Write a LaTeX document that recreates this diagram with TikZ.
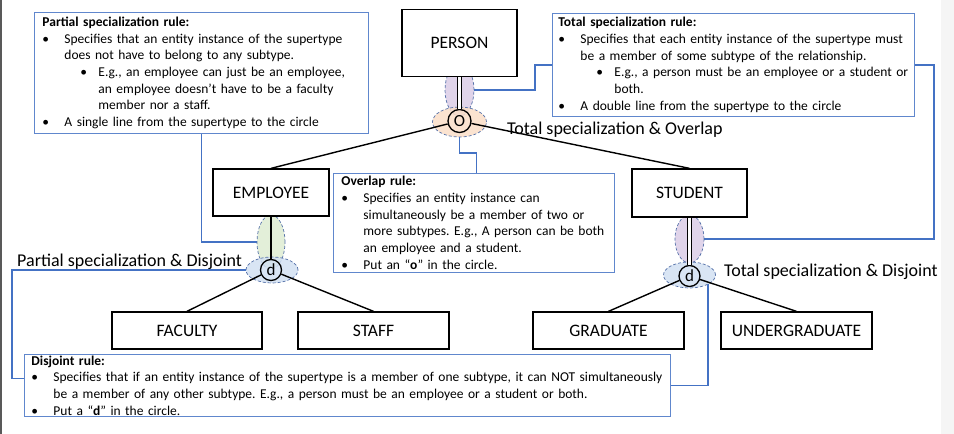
\documentclass[tikz,border=0pt]{standalone}
\usepackage{fontspec}
\setmainfont{Carlito}
\frenchspacing
\usetikzlibrary{positioning,calc,shapes.geometric,backgrounds}
\definecolor{rulblue}{RGB}{68,114,196}
\definecolor{dashblue}{RGB}{84,112,168}
\definecolor{lavfill}{RGB}{218,205,230}
\definecolor{peachfill}{RGB}{250,222,200}
\definecolor{sagefill}{RGB}{222,236,210}
\definecolor{skyfill}{RGB}{210,224,242}
\tikzset{
  entity/.style={draw=black, line width=1.3pt, fill=white, inner sep=0pt, font=\fontsize{17.5}{20}\selectfont},
  rulebox/.style={draw=rulblue!85, line width=0.9pt, fill=white, anchor=north west, align=left,
    inner xsep=8pt, inner ysep=0pt, font=\fontsize{13.5}{16.7}\selectfont},
  bubble/.style={ellipse, draw=dashblue, line width=0.7pt, dash pattern=on 3pt off 2pt,
    fill opacity=0.85, inner sep=0pt},
  selcirc/.style={circle, draw=black, line width=1.3pt, inner sep=0pt, font=\fontsize{17}{18}\selectfont},
  link/.style={line width=1.4pt, black},
  callout/.style={draw=rulblue, line width=1.4pt},
  lbl/.style={anchor=base west, inner sep=0pt, font=\fontsize{18}{20}\selectfont},
}
\newcommand{\bl}{\makebox[22pt][l]{\textbullet}}
\newcommand{\sbl}{\hspace*{38pt}\makebox[18pt][l]{\textbullet}}
\newcommand{\hng}{\hspace*{22pt}}
\newcommand{\shng}{\hspace*{56pt}}

\begin{document}
\begin{tikzpicture}[x=1pt,y=-1pt]
  \useasboundingbox (0,0) rectangle (954,434);
  \fill[gray!8] (941,0) rectangle (954,434);
  \draw[gray!70!black, line width=1.5pt] (0.75,0) -- (0.75,434);

  % bubbles round the lines and circles
  \node[bubble, fill=lavfill, minimum width=29pt, minimum height=52pt] (pbub) at (459.5,90) {};
  \node[bubble, fill=peachfill, minimum width=54pt, minimum height=30pt] (obub) at (459.5,122) {};
  \node[bubble, fill=sagefill, minimum width=28pt, minimum height=54pt] (ebub) at (271,242) {};
  \node[bubble, fill=skyfill, minimum width=52pt, minimum height=26pt] (edbub) at (272,270) {};
  \node[bubble, fill=lavfill, minimum width=29pt, minimum height=48pt] (sbub) at (689.5,239) {};
  \node[bubble, fill=skyfill, minimum width=52pt, minimum height=26pt] (sdbub) at (689.5,275) {};

  % entities
  \node[entity, minimum width=115pt, minimum height=67pt] (person) at (459.5,43) {PERSON};
  \node[entity, minimum width=116pt, minimum height=47pt] (employee) at (271,192.5) {EMPLOYEE};
  \node[entity, minimum width=115pt, minimum height=48pt] (student) at (689.5,193) {STUDENT};
  \node[entity, minimum width=150pt, minimum height=37pt] (faculty) at (187,330.5) {FACULTY};
  \node[entity, minimum width=151pt, minimum height=37pt] (staff) at (373.5,330.5) {STAFF};
  \node[entity, minimum width=151pt, minimum height=37pt] (graduate) at (608.5,330.5) {GRADUATE};
  \node[entity, minimum width=151pt, minimum height=37pt] (undergrad) at (796.5,330.5) {UNDERGRADUATE};

  % specialization circles
  \node[selcirc, minimum size=23pt] (ocirc) at (459.5,121) {O};
  \node[selcirc, minimum size=21pt] (edcirc) at (271,270) {d};
  \node[selcirc, minimum size=21pt] (sdcirc) at (689.5,276) {d};

  \draw[link, double, double distance=2.8pt] (person) -- (ocirc);
  \draw[link] (ocirc) -- (employee.north);
  \draw[link] (ocirc) -- (student.north);
  \draw[link] (employee) -- (edcirc);
  \draw[link] (edcirc) -- (faculty.north);
  \draw[link] (edcirc) -- (staff.north);
  \draw[link, double, double distance=2.8pt] (student) -- (sdcirc);
  \draw[link] (sdcirc) -- (graduate.north);
  \draw[link] (sdcirc) -- (undergrad.north);

  % rule boxes
  \node[rulebox, text width=318pt, minimum height=121pt] (partial) at (34,12) {%
    \textbf{Partial specialization rule:}\\
    \bl Specifies that an entity instance of the supertype\\
    \hng does not have to belong to any subtype.\\
    \sbl E.g., an employee can just be an employee,\\
    \shng an employee doesn’t have to be a faculty\\
    \shng member nor a staff.\\
    \bl A single line from the supertype to the circle};
  \node[rulebox, inner xsep=6pt, text width=350pt, minimum height=103pt] (total) at (552,13) {%
    \textbf{Total specialization rule:}\\
    \bl Specifies that each entity instance of the supertype must\\
    \hng be a member of some subtype of the relationship.\\
    \sbl E.g., a person must be an employee or a student or\\
    \shng both.\\
    \bl A double line from the supertype to the circle};
  \node[rulebox, text width=265pt, minimum height=99pt] (overlap) at (333,173) {%
    \textbf{Overlap rule:}\\
    \bl Specifies an entity instance can\\
    \hng simultaneously be a member of two or\\
    \hng more subtypes. E.g., A person can be both\\
    \hng an employee and a student.\\
    \bl Put an “\textbf{o}” in the circle.};
  \node[rulebox, inner xsep=7pt, text width=632pt, minimum height=62pt] (disjoint) at (24,354) {%
    \textbf{Disjoint rule:}\\
    \bl Specifies that if an entity instance of the supertype is a member of one subtype, it can NOT simultaneously\\
    \hng be a member of any other subtype. E.g., a person must be an employee or a student or both.\\
    \bl Put a “\textbf{d}” in the circle.};

  % callouts, behind the boxes they run into
  \begin{scope}[on background layer]
    \coordinate (pdbend) at (12,270);
    \draw[callout] (pbub.east) -| ($(total.west)+(-17,0)$) -- (total.east) -- ++(19,0) |- (sbub.east);
    \draw[callout] (obub.south) |- ($(overlap.north)+(2.5,-20)$) -- ($(overlap.north)+(2.5,0)$);
    \draw[callout] (partial.south) |- (ebub.west);
    \draw[callout] (edbub.west) -- (pdbend) |- ($(disjoint.west)+(0,-7)$);
    \draw[callout] (sdbub.south east) |- (disjoint.east);
  \end{scope}

  % labels
  \node[lbl] (tolbl) at (507,134) {Total specialization \& Overlap};
  \node[lbl] (pdlbl) at (17,266) {Partial specialization \& Disjoint};
  \node[lbl] (tdlbl) at (724,276) {Total specialization \& Disjoint};
\end{tikzpicture}
\end{document}
